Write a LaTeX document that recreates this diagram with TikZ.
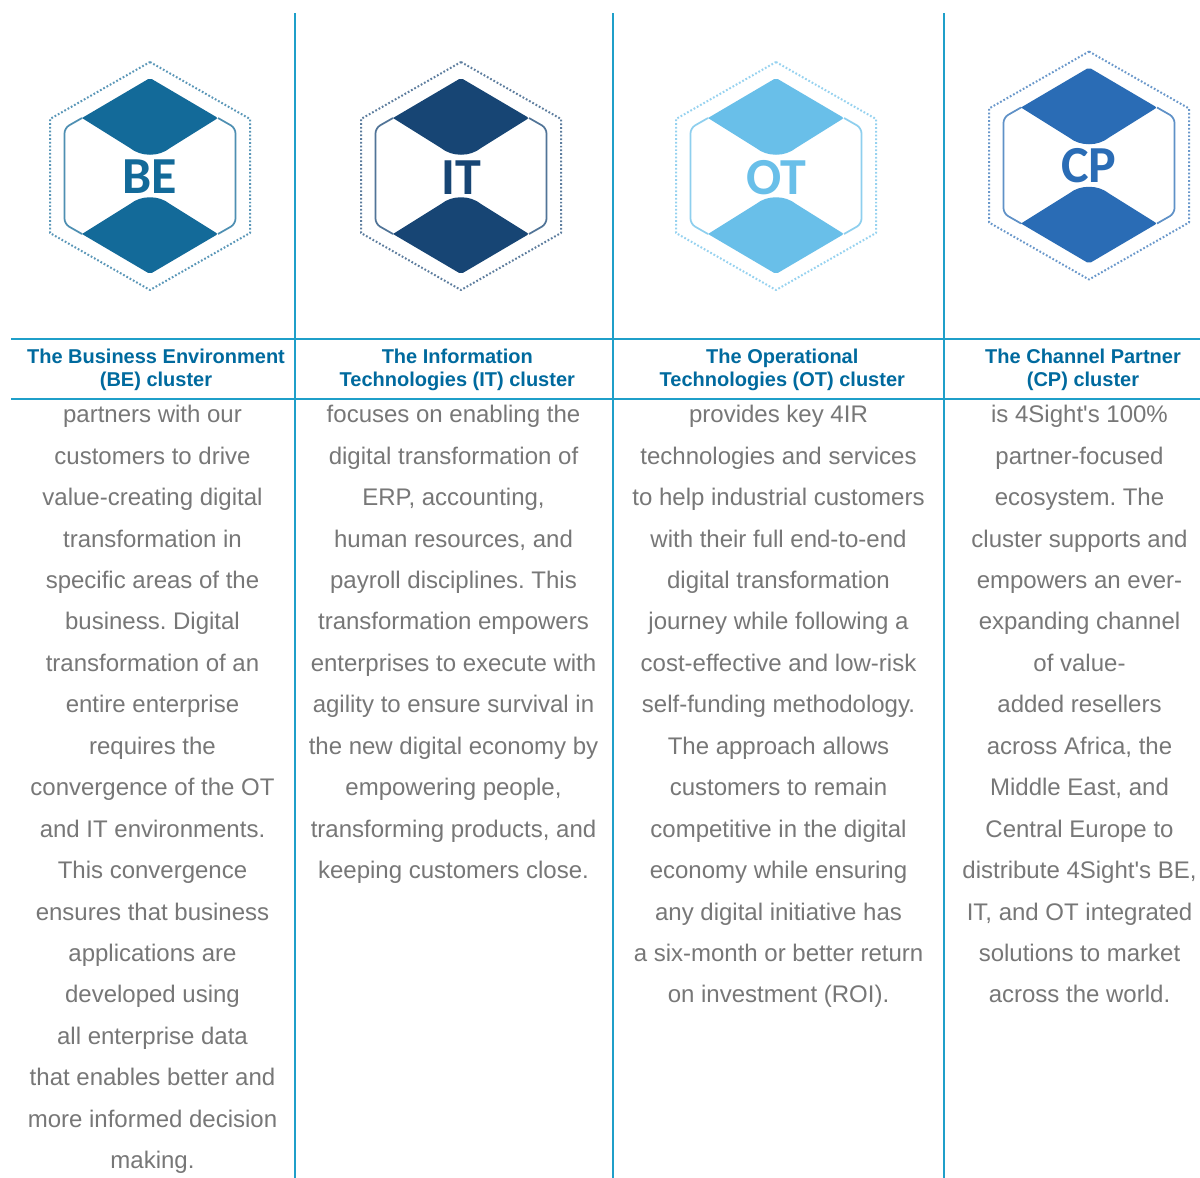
\documentclass[tikz,border=0pt]{standalone}
\usepackage{fontspec}
\setmainfont[Ligatures=TeXOff]{Liberation Sans}
\newfontfamily\logofont{Carlito}
\definecolor{rulec}{HTML}{1F9FC9}
\definecolor{headc}{HTML}{006A9E}
\definecolor{bodyc}{HTML}{777777}
\definecolor{beC}{HTML}{136A99}
\definecolor{itC}{HTML}{174574}
\definecolor{otC}{HTML}{69BFE9}
\definecolor{cpC}{HTML}{2A6CB5}
\tikzset{
  x=0.75pt,y=-0.75pt,
  gridline/.style={draw=rulec,line width=1.35pt},
  headtext/.style={text=headc,font=\fontsize{15pt}{17.3pt}\selectfont\bfseries,align=center,inner sep=0pt,anchor=center},
  bodytext/.style={text=bodyc,font=\fontsize{18pt}{31.08pt}\selectfont\frenchspacing,align=center,inner sep=0pt,anchor=north},
  logotext/.style={font=\fontsize{39pt}{39pt}\logofont\bfseries\selectfont,inner sep=0pt,anchor=center},
  dotline/.style={line width=1.5pt,dash pattern=on 1.3pt off 1.5pt,line join=round},
  innerline/.style={line width=1.3pt,rounded corners=4pt},
}
\newcommand{\fl}{\rule{0pt}{15pt}}
\newcommand{\hexlogo}[6]{%
\begin{scope}[shift={(#1,#2)}]
  \draw[dotline,draw=#3!70] (0,-114) -- (100,-57) -- (100,57) -- (0,114) -- (-100,57) -- (-100,-57) -- cycle;
  \draw[innerline,draw=#3!75] (-68,-58) -- (-85.5,-48) -- (-85.5,48) -- (-68,58);
  \draw[innerline,draw=#3!75] (68,-58) -- (85.5,-48) -- (85.5,48) -- (68,58);
  \fill[#3] (-68,-58) [rounded corners=1.5pt] -- (0,-98) -- (68,-58) [sharp corners] -- (20,-28) .. controls (9,-19) and (-9,-19) .. (-20,-28) -- cycle;
  \fill[#3] (-68,58) [rounded corners=1.5pt] -- (0,98) -- (68,58) [sharp corners] -- (20,28) .. controls (9,19) and (-9,19) .. (-20,28) -- cycle;
  \node[logotext,text=#3] (#5) at (0,#6) {#4};
\end{scope}}
\begin{document}
\begin{tikzpicture}
\useasboundingbox (0,0) rectangle (1200,1178);
\fill[white] (0,0) rectangle (1200,1178);
% rules
\coordinate (v1t) at (295,13); \coordinate (v1b) at (295,1178);
\coordinate (v2t) at (613,13); \coordinate (v2b) at (613,1178);
\coordinate (v3t) at (944,13); \coordinate (v3b) at (944,1178);
\coordinate (h1l) at (11,339); \coordinate (h1r) at (1200,339);
\coordinate (h2l) at (11,399); \coordinate (h2r) at (1200,399);
\draw[gridline] (v1t) -- (v1b);
\draw[gridline] (v2t) -- (v2b);
\draw[gridline] (v3t) -- (v3b);
\draw[gridline] (h1l) -- (h1r);
\draw[gridline] (h2l) -- (h2r);
% logos
\hexlogo{150}{176}{beC}{BE}{logoBE}{1}
\hexlogo{461}{176}{itC}{IT}{logoIT}{2}
\hexlogo{776}{176}{otC}{OT}{logoOT}{2}
\hexlogo{1089}{165.5}{cpC}{CP}{logoCP}{0}
% headers
\node[headtext] (hBE) at (156,369.5) {The Business Environment\\(BE) cluster};
\node[headtext] (hIT) at (457.3,369.5) {The Information\\Technologies (IT) cluster};
\node[headtext] (hOT) at (782.3,369.5) {The Operational\\Technologies (OT) cluster};
\node[headtext] (hCP) at (1083,369.5) {The Channel Partner\\(CP) cluster};
% bodies
\node[bodytext] (bBE) at (152.5,402.5) {\fl partners with our\\customers to drive\\value-creating digital\\transformation in\\specific areas of the\\business. Digital\\transformation of an\\entire enterprise\\requires the\\convergence of the OT\\and IT environments.\\This convergence\\ensures that business\\applications are\\developed using\\all enterprise data\\that enables better and\\more informed decision\\making.};
\node[bodytext] (bIT) at (453.5,402.5) {\fl focuses on enabling the\\digital transformation of\\ERP, accounting,\\human resources, and\\payroll disciplines. This\\transformation empowers\\enterprises to execute with\\agility to ensure survival in\\the new digital economy by\\empowering people,\\transforming products, and\\keeping customers close.};
\node[bodytext] (bOT) at (778.5,402.5) {\fl provides key 4IR\\technologies and services\\to help industrial customers\\with their full end-to-end\\digital transformation\\journey while following a\\cost-effective and low-risk\\self-funding methodology.\\The approach allows\\customers to remain\\competitive in the digital\\economy while ensuring\\any digital initiative has\\a six-month or better return\\on investment (ROI).};
\node[bodytext] (bCP) at (1079.5,402.5) {\fl is 4Sight's 100\%\\partner-focused\\ecosystem. The\\cluster supports and\\empowers an ever-\\expanding channel\\of value-\\added resellers\\across Africa, the\\Middle East, and\\Central Europe to\\distribute 4Sight's BE,\\IT, and OT integrated\\solutions to market\\across the world.};
\end{tikzpicture}
\end{document}
